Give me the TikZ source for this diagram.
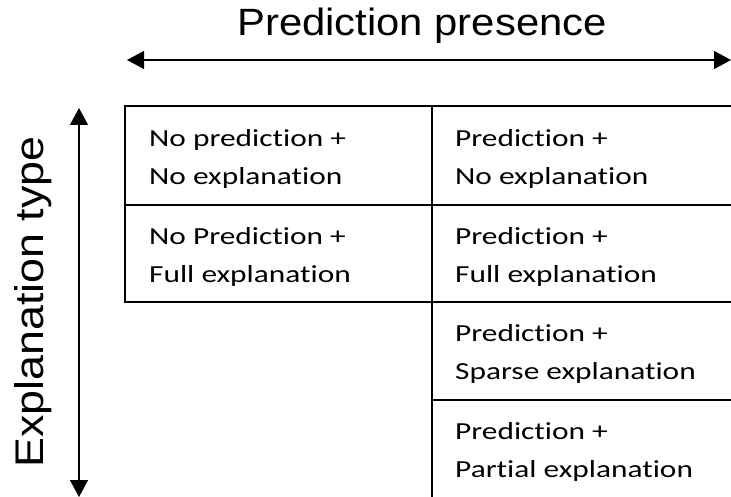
\documentclass[tikz,border=0pt]{standalone}
\usepackage{fontspec}
\setmainfont{Carlito}[FakeStretch=1.28, Ligatures={NoCommon,NoContextual}]
\newfontfamily\axisfont{Liberation Sans}[FakeStretch=1.1]
\newfontfamily\axisfontv{Liberation Sans}[FakeStretch=1.12]
\usetikzlibrary{arrows.meta}

\tikzset{
  cell/.style={anchor=west, align=left, inner sep=0pt,
    font=\fontsize{24.5}{38}\selectfont},
  axislabel/.style={inner sep=0pt},
  axisarrow/.style={line width=1.3pt,
    {Triangle[length=17pt,width=18pt]}-{Triangle[length=17pt,width=18pt]}},
  grid/.style={line width=1.8pt}
}

\begin{document}
\begin{tikzpicture}[x=1pt,y=-1pt]
    \useasboundingbox (0,0) rectangle (731,497);

    % Axis titles
    \node[axislabel, anchor=base, font=\axisfont\fontsize{38}{42}\selectfont]
        (xlabel) at (422,36) {Prediction presence};
    \node[axislabel, anchor=base, rotate=90, font=\axisfontv\fontsize{40}{44}\selectfont]
        (ylabel) at (43,302) {Explanation type};

    % Axis arrows
    \coordinate (xleft) at (127,60);
    \coordinate (xright) at (731,60);
    \coordinate (ytop) at (79,108);
    \coordinate (ybottom) at (79,497);
    \draw[axisarrow] (xleft) -- (xright);
    \draw[axisarrow] (ytop) -- (ybottom);

    % Left column
    \draw[grid] (125,106) rectangle (432,302);
    \draw[grid] (125,205) -- (432,205);

    % Right column
    \draw[grid] (432,106) -- (731,106);
    \draw[grid] (432,205) -- (731,205);
    \draw[grid] (432,302) -- (731,302);
    \draw[grid] (432,400) -- (731,400);
    \draw[grid] (432,106) -- (432,497);

    % Cell texts
    \node[cell] (nopred-noexp) at (149,159) {No prediction +\\No explanation};
    \node[cell] (nopred-full) at (149,257) {No Prediction +\\Full explanation};
    \node[cell] (pred-noexp) at (455,159) {Prediction +\\No explanation};
    \node[cell] (pred-full) at (455,257) {Prediction +\\Full explanation};
    \node[cell] (pred-sparse) at (455,354) {Prediction +\\Sparse explanation};
    \node[cell] (pred-partial) at (455,452) {Prediction +\\Partial explanation};
\end{tikzpicture}
\end{document}
